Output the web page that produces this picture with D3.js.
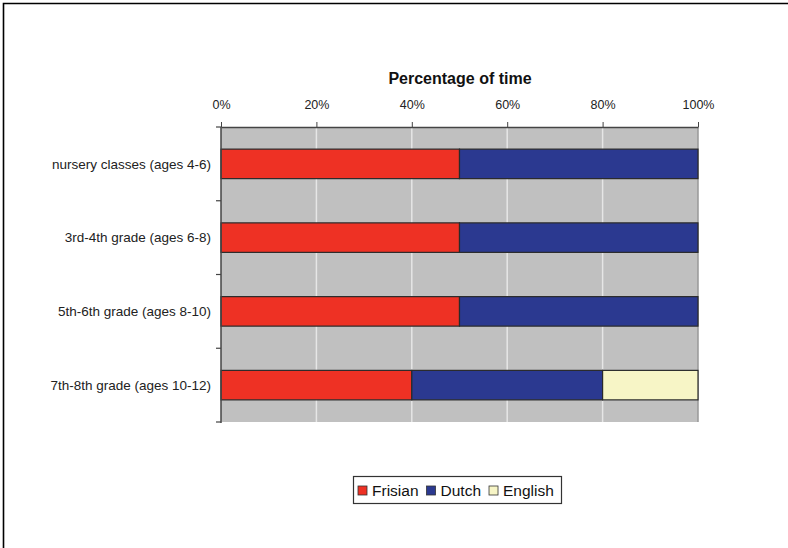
<!DOCTYPE html>
<html>
<head>
<meta charset="utf-8">
<script src="https://cdn.jsdelivr.net/npm/d3@7"></script>
<style>
html,body{margin:0;padding:0;background:#fff;}
svg{display:block;}
text{font-family:"Liberation Sans",Arial,sans-serif;}
</style>
</head>
<body>
<svg id="chart" width="788" height="548"></svg>
<script>
const categories = ["nursery classes (ages 4-6)", "3rd-4th grade (ages 6-8)", "5th-6th grade (ages 8-10)", "7th-8th grade (ages 10-12)"];
const seriesNames = ["Frisian", "Dutch", "English"];
const frisian = [50, 50, 50, 40];
const dutch = [50, 50, 50, 40];
const english = [0, 0, 0, 20];
const colors = ["#ee3124", "#2b3990", "#f7f5c6"];
const tickValues = [0, 20, 40, 60, 80, 100];
const axisTitle = "Percentage of time";

const svg = d3.select("#chart");
// outer frame (top and left edges visible)
svg.append("path").attr("d", "M3.5,600 L3.5,3.5 L800,3.5").attr("fill", "none").attr("stroke", "#000").attr("stroke-width", 1.6);

const L = 221, R = 698, T = 127, B = 422;
const x = d3.scaleLinear().domain([0, 100]).range([L, R]);
const y = d3.scaleBand().domain(categories).range([T, B]).paddingInner(0.6).paddingOuter(0.3);
const yOuter = d3.scaleBand().domain(categories).range([T, B]);

svg.append("rect").attr("x", L).attr("y", T).attr("width", R - L).attr("height", B - T).attr("fill", "#c0c0c0");

// gridlines
svg.append("g").selectAll("line").data(tickValues.slice(1)).join("line")
  .attr("x1", d => x(d)).attr("x2", d => x(d)).attr("y1", T).attr("y2", B)
  .attr("stroke", d => d === 100 ? "#999" : "#e6e6e6").attr("stroke-width", 1.5);

// stacked data
const rows = categories.map((c, i) => ({cat: c, Frisian: frisian[i], Dutch: dutch[i], English: english[i]}));
const stack = d3.stack().keys(seriesNames)(rows);
svg.append("g").selectAll("g").data(stack).join("g")
  .attr("fill", (d, i) => colors[i])
  .selectAll("rect").data(d => d.filter(p => p[1] - p[0] > 0)).join("rect")
  .attr("x", d => x(d[0])).attr("width", d => x(d[1]) - x(d[0]))
  .attr("y", d => y(d.data.cat)).attr("height", y.bandwidth())
  .attr("stroke", "#2a2a2a").attr("stroke-width", 1.2);

// top axis
const xAxis = d3.axisTop(x).tickValues(tickValues).tickFormat(d => d + "%").tickSize(5).tickSizeOuter(0);
const gx = svg.append("g").attr("transform", `translate(0,${T})`).call(xAxis);
gx.select(".domain").attr("stroke", "#444").attr("stroke-width", 1.5);
gx.selectAll(".tick line").attr("stroke", "#444");
gx.selectAll(".tick text").attr("font-size", 12.5).attr("fill", "#222").attr("y", -18)
  .style("font-family", "'Liberation Sans', Arial, sans-serif");

// left axis
svg.append("line").attr("x1", L).attr("x2", L).attr("y1", T).attr("y2", B + 1).attr("stroke", "#444").attr("stroke-width", 1.5);
const boundaries = categories.map(c => yOuter(c)).concat([B]);
svg.append("g").selectAll("line").data(boundaries).join("line")
  .attr("x1", L - 5).attr("x2", L).attr("y1", d => d).attr("y2", d => d)
  .attr("stroke", "#444").attr("stroke-width", 1.2);
svg.append("g").selectAll("text").data(categories).join("text")
  .attr("x", 211).attr("y", d => y(d) + y.bandwidth() / 2).attr("dy", "0.35em")
  .attr("text-anchor", "end").attr("font-size", 13.5).attr("fill", "#222").text(d => d);

// title
svg.append("text").attr("x", 460).attr("y", 84).attr("text-anchor", "middle")
  .attr("font-size", 16).attr("font-weight", "bold").attr("fill", "#111").text(axisTitle);

// legend
const lg = svg.append("g");
lg.append("rect").attr("x", 353.5).attr("y", 476.5).attr("width", 208).attr("height", 27).attr("fill", "#fff").attr("stroke", "#333").attr("stroke-width", 1.2);
let lx = 358;
seriesNames.forEach((n, i) => {
  lg.append("rect").attr("x", lx).attr("y", 486).attr("width", 9).attr("height", 9).attr("fill", colors[i]).attr("stroke", "#333").attr("stroke-width", 0.8);
  const t = lg.append("text").attr("x", lx + 14).attr("y", 496).attr("font-size", 15.5).attr("fill", "#111").text(n);
  lx += 14 + t.node().getComputedTextLength() + 8;
});
</script>
</body>
</html>
